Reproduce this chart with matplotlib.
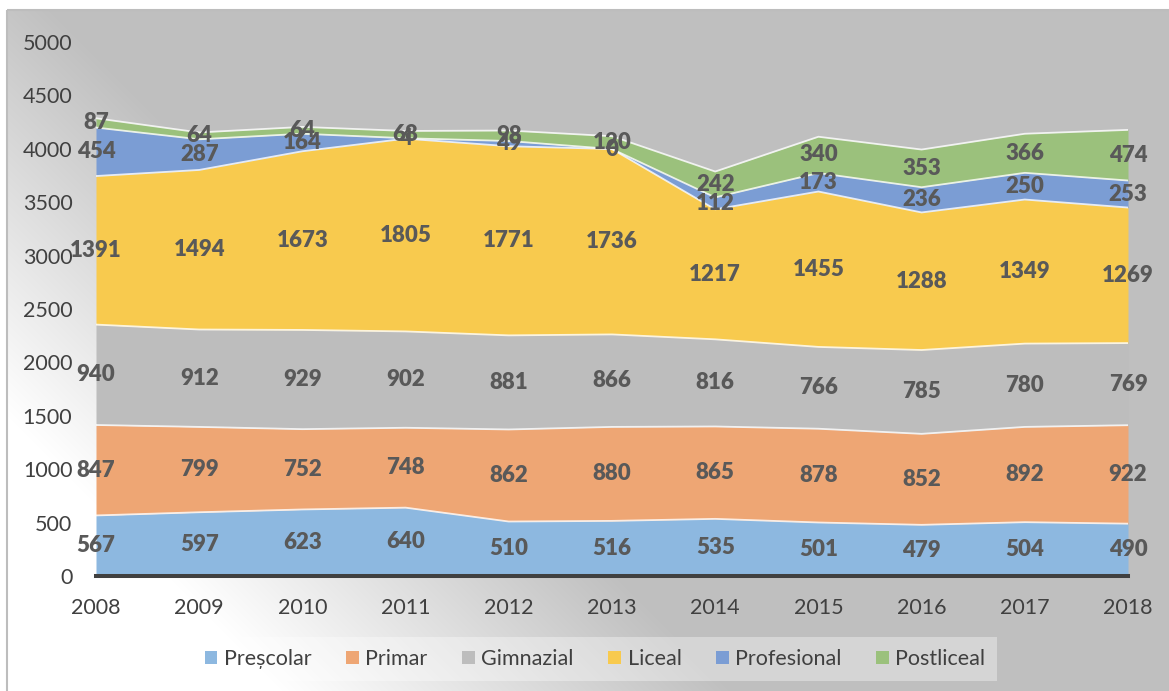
import numpy as np
import matplotlib
matplotlib.use("Agg")
import matplotlib.pyplot as plt
from matplotlib.patches import Patch, Rectangle

plt.rcParams['font.family'] = ['Lato', 'DejaVu Sans']

# data
years = [2008, 2009, 2010, 2011, 2012, 2013, 2014, 2015, 2016, 2017, 2018]
prescolar = [567, 597, 623, 640, 510, 516, 535, 501, 479, 504, 490]
primar = [847, 799, 752, 748, 862, 880, 865, 878, 852, 892, 922]
gimnazial = [940, 912, 929, 902, 881, 866, 816, 766, 785, 780, 769]
liceal = [1391, 1494, 1673, 1805, 1771, 1736, 1217, 1455, 1288, 1349, 1269]
profesional = [454, 287, 164, 4, 49, 0, 112, 173, 236, 250, 253]
postliceal = [87, 64, 64, 68, 98, 120, 242, 340, 353, 366, 474]

names = ['Preșcolar', 'Primar', 'Gimnazial', 'Liceal', 'Profesional', 'Postliceal']
series = [prescolar, primar, gimnazial, liceal, profesional, postliceal]
colors = ['#8db8e0', '#eea674', '#bdbdbd', '#f8ca4e', '#7b9dd4', '#9bc17c']

W, H = 1169, 691
fig = plt.figure(figsize=(W / 100, H / 100), dpi=100)

# chart background: diagonal gradient, white in the lower left corner
bg = fig.add_axes([0, 0, 1, 1], zorder=-5)
xx, yy = np.meshgrid(np.arange(W), np.arange(H))
t = (xx + (H - yy)) / np.sqrt(2)
val = 255 - 64 * np.clip((t - 200) / 320, 0, 1)
val[(xx < 7) | (yy < 10)] = 255
img = np.dstack([val, val, val]) / 255
bg.imshow(img, extent=[0, W, H, 0], aspect='auto', interpolation='bilinear')
bg.add_patch(Rectangle((6.5, 10), W, H, fill=False, edgecolor='#bdbdbd', lw=1.5))
bg.set_xlim(0, W)
bg.set_ylim(H, 0)
bg.axis('off')

ax = fig.add_axes([96 / W, (H - 576) / H, (1128 - 96) / W, (576 - 42) / H])
ax.patch.set_alpha(0)

bottom = np.zeros(len(years))
for name, vals, c in zip(names, series, colors):
    vals = np.array(vals, dtype=float)
    top = bottom + vals
    ax.fill_between(years, bottom, top, color=c, lw=0, label=name)
    ax.plot(years, top, color='white', lw=1.3, alpha=0.8)
    for x, b, v in zip(years, bottom, vals):
        ax.text(x, b + v / 2, str(int(v)), ha='center', va='center',
                fontsize=16, fontweight='heavy', color='#595959', zorder=10)
    bottom = top

ax.axhline(0, color='#404040', lw=2.9, clip_on=False, zorder=5)

ax.set_xlim(2008, 2018)
ax.set_ylim(0, 5000)
ax.set_xticks(years)
ax.set_yticks(range(0, 5001, 500))
ax.tick_params(length=0, labelsize=15.5, labelcolor='#404040')
ax.tick_params(axis='y', pad=17)
ax.tick_params(axis='x', pad=16)
for s in ax.spines.values():
    s.set_visible(False)

handles = [Patch(facecolor=c, edgecolor='none') for c in colors]
leg = fig.legend(handles, names, loc='center', bbox_to_anchor=(595 / W, (H - 659) / H),
                 ncol=6, frameon=True, fancybox=False, fontsize=15.5,
                 handlelength=0.6, handleheight=0.6, handletextpad=0.3,
                 columnspacing=1.6, borderpad=0.55, borderaxespad=0)
leg.get_frame().set_facecolor('white')
leg.get_frame().set_alpha(0.35)
leg.get_frame().set_edgecolor('none')
for txt in leg.get_texts():
    txt.set_color('#404040')

plt.savefig('out.png', dpi=100)
